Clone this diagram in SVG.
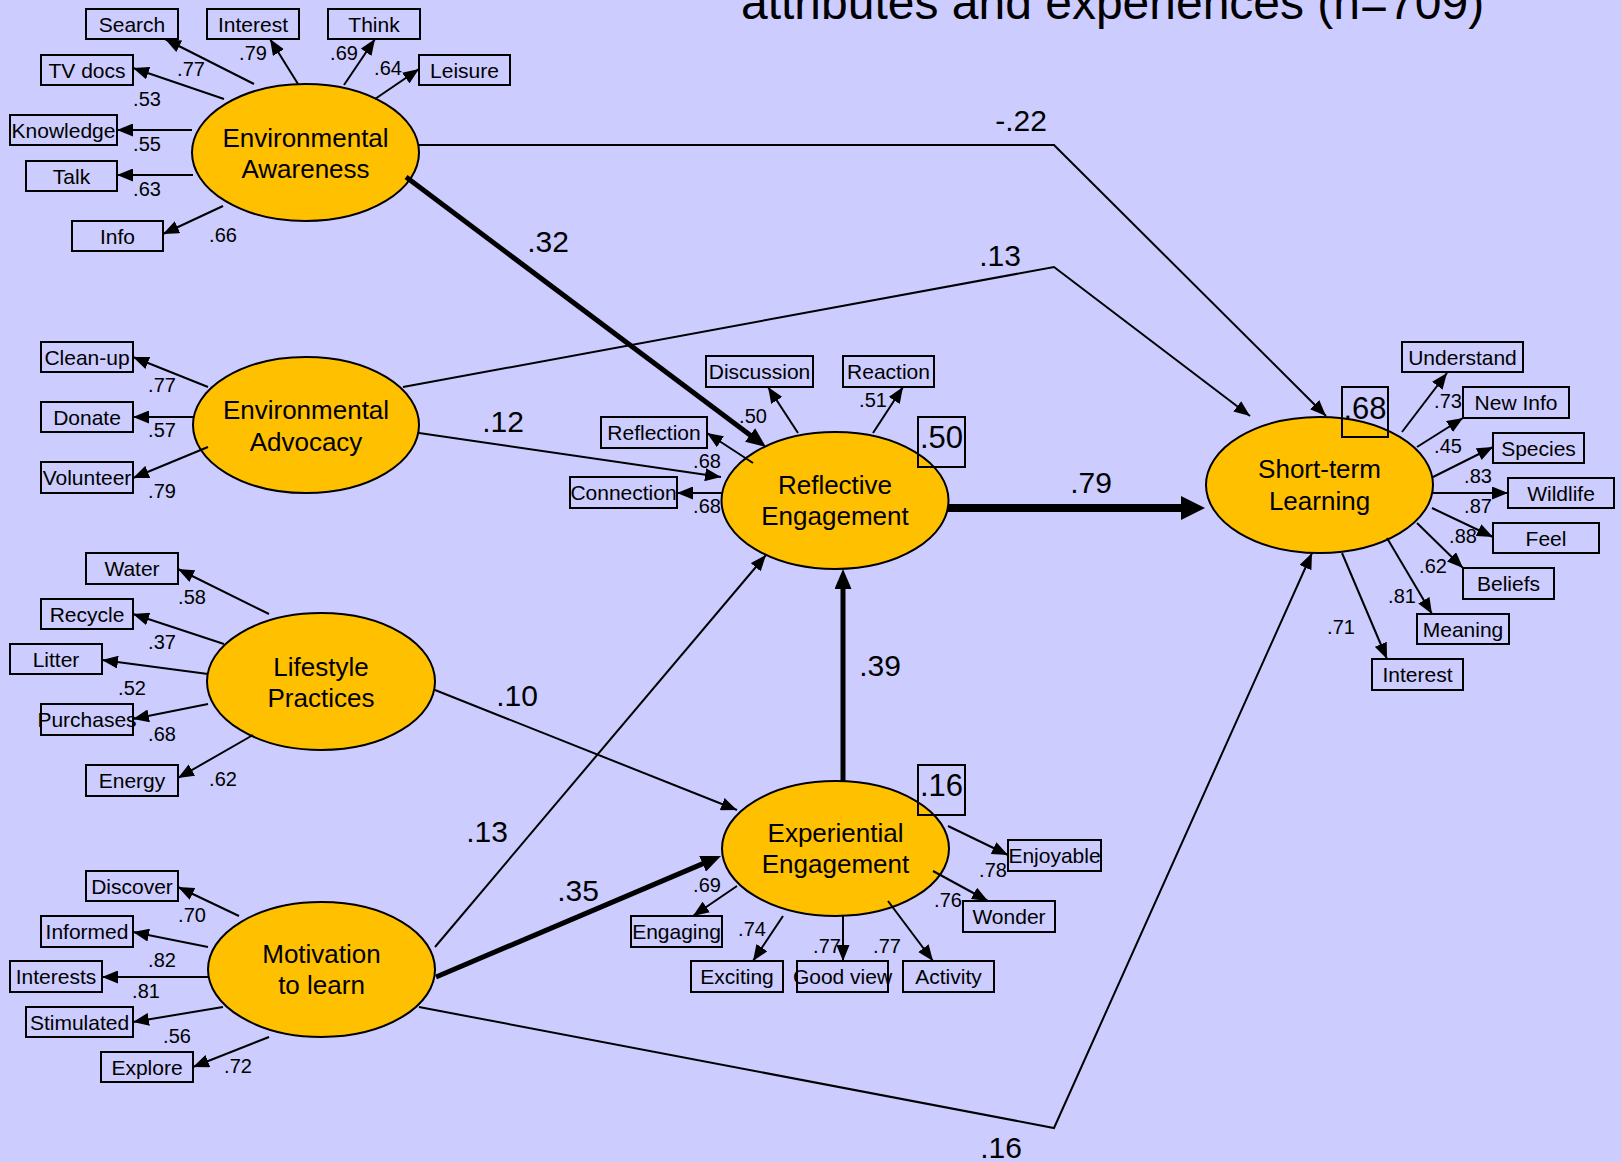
<svg xmlns="http://www.w3.org/2000/svg" width="1621" height="1162" viewBox="0 0 1621 1162">
<style>
text{font-family:"Liberation Sans",Arial,sans-serif;fill:#000}
.lat{fill:#FFC000;stroke:#000;stroke-width:2}
.box{fill:none;stroke:#000;stroke-width:2}
.lt{font-size:26px;text-anchor:middle}
.bt{font-size:21px;text-anchor:middle}
.r2t{font-size:31px;text-anchor:middle}
.cl{font-size:20px;text-anchor:middle}
.pl{font-size:30px;text-anchor:middle}
.thin{fill:none;stroke:#000;stroke-width:2;marker-end:url(#arrow)}
.med{fill:none;stroke:#000;stroke-width:5;marker-end:url(#arrowMed)}
.big{fill:none;stroke:#000;stroke-width:8;marker-end:url(#arrowBig)}
</style>
<defs>
<marker id="arrow" markerUnits="userSpaceOnUse" viewBox="0 0 16 13" refX="16" refY="6.5" markerWidth="16" markerHeight="13" orient="auto"><path d="M0,0 L16,6.5 L0,13 z" fill="#000"/></marker>
<marker id="arrowMed" markerUnits="userSpaceOnUse" viewBox="0 0 20 17" refX="10" refY="8.5" markerWidth="20" markerHeight="17" orient="auto"><path d="M0,0 L20,8.5 L0,17 z" fill="#000"/></marker>
<marker id="arrowBig" markerUnits="userSpaceOnUse" viewBox="0 0 24 24" refX="10" refY="12" markerWidth="24" markerHeight="24" orient="auto"><path d="M0,0 L24,12 L0,24 z" fill="#000"/></marker>
</defs>
<rect x="0" y="0" width="1621" height="1162" fill="#CCCCFF"/>
<text x="741" y="19" style="font-size:48px">attributes and experiences (n=709)</text>

<g id="node-environmental-awareness">
<ellipse class="lat" cx="305.5" cy="152.5" rx="113.5" ry="68.5"/>
<text class="lt" x="305.5" y="147">Environmental</text>
<text class="lt" x="305.5" y="178">Awareness</text>
</g>
<g id="node-environmental-advocacy">
<ellipse class="lat" cx="306" cy="425" rx="113" ry="68"/>
<text class="lt" x="306" y="419">Environmental</text>
<text class="lt" x="306" y="451">Advocacy</text>
</g>
<g id="node-lifestyle-practices">
<ellipse class="lat" cx="321" cy="681.5" rx="114" ry="68.5"/>
<text class="lt" x="321" y="676">Lifestyle</text>
<text class="lt" x="321" y="707">Practices</text>
</g>
<g id="node-motivation">
<ellipse class="lat" cx="321.5" cy="969.5" rx="113.5" ry="67.5"/>
<text class="lt" x="321.5" y="963">Motivation</text>
<text class="lt" x="321.5" y="994">to learn</text>
</g>
<g id="node-reflective-engagement">
<ellipse class="lat" cx="835" cy="500.5" rx="113.5" ry="68.5"/>
<text class="lt" x="835" y="494">Reflective</text>
<text class="lt" x="835" y="525">Engagement</text>
<rect class="box" x="918" y="417" width="47" height="50"/>
<text class="r2t" x="941.5" y="448">.50</text>
</g>
<g id="node-experiential-engagement">
<ellipse class="lat" cx="835.5" cy="848.5" rx="113.5" ry="67.5"/>
<text class="lt" x="835.5" y="842">Experiential</text>
<text class="lt" x="835.5" y="873">Engagement</text>
<rect class="box" x="918" y="765" width="47" height="50"/>
<text class="r2t" x="941.5" y="796">.16</text>
</g>
<g id="node-short-term-learning">
<ellipse class="lat" cx="1319.5" cy="485" rx="113.5" ry="68"/>
<text class="lt" x="1319.5" y="478">Short-term</text>
<text class="lt" x="1319.5" y="510">Learning</text>
<rect class="box" x="1342" y="387" width="46" height="50"/>
<text class="r2t" x="1365" y="419">.68</text>
</g>

<g id="node-search"><rect class="box" x="86" y="9" width="92" height="30"/><text class="bt" x="132" y="31.5">Search</text></g>
<g id="node-interest-ea"><rect class="box" x="207" y="9" width="92" height="30"/><text class="bt" x="253" y="31.5">Interest</text></g>
<g id="node-think"><rect class="box" x="328" y="9" width="92" height="30"/><text class="bt" x="374" y="31.5">Think</text></g>
<g id="node-tvdocs"><rect class="box" x="41" y="55" width="92" height="30"/><text class="bt" x="87" y="77.5">TV docs</text></g>
<g id="node-leisure"><rect class="box" x="419" y="55" width="91" height="30"/><text class="bt" x="464.5" y="77.5">Leisure</text></g>
<g id="node-knowledge"><rect class="box" x="10" y="115" width="107" height="30"/><text class="bt" x="63.5" y="137.5">Knowledge</text></g>
<g id="node-talk"><rect class="box" x="26" y="161" width="91" height="30"/><text class="bt" x="71.5" y="183.5">Talk</text></g>
<g id="node-info"><rect class="box" x="72" y="221" width="91" height="30"/><text class="bt" x="117.5" y="243.5">Info</text></g>

<g id="node-cleanup"><rect class="box" x="41" y="342" width="92" height="30"/><text class="bt" x="87" y="364.5">Clean-up</text></g>
<g id="node-donate"><rect class="box" x="41" y="402" width="92" height="30"/><text class="bt" x="87" y="424.5">Donate</text></g>
<g id="node-volunteer"><rect class="box" x="41" y="462" width="92" height="31"/><text class="bt" x="87" y="485">Volunteer</text></g>

<g id="node-water"><rect class="box" x="86" y="553" width="92" height="31"/><text class="bt" x="132" y="576">Water</text></g>
<g id="node-recycle"><rect class="box" x="41" y="599" width="92" height="30"/><text class="bt" x="87" y="621.5">Recycle</text></g>
<g id="node-litter"><rect class="box" x="10" y="644" width="92" height="30"/><text class="bt" x="56" y="666.5">Litter</text></g>
<g id="node-purchases"><rect class="box" x="41" y="704" width="92" height="31"/><text class="bt" x="87" y="727">Purchases</text></g>
<g id="node-energy"><rect class="box" x="86" y="765" width="92" height="31"/><text class="bt" x="132" y="788">Energy</text></g>

<g id="node-discover"><rect class="box" x="86" y="871" width="92" height="30"/><text class="bt" x="132" y="893.5">Discover</text></g>
<g id="node-informed"><rect class="box" x="41" y="916" width="92" height="31"/><text class="bt" x="87" y="939">Informed</text></g>
<g id="node-interests"><rect class="box" x="10" y="961" width="92" height="31"/><text class="bt" x="56" y="984">Interests</text></g>
<g id="node-stimulated"><rect class="box" x="26" y="1007" width="107" height="30"/><text class="bt" x="79.5" y="1029.5">Stimulated</text></g>
<g id="node-explore"><rect class="box" x="101" y="1052" width="92" height="30"/><text class="bt" x="147" y="1074.5">Explore</text></g>

<g id="node-discussion"><rect class="box" x="706" y="356" width="107" height="31"/><text class="bt" x="759.5" y="379">Discussion</text></g>
<g id="node-reaction"><rect class="box" x="843" y="356" width="91" height="31"/><text class="bt" x="888.5" y="379">Reaction</text></g>
<g id="node-reflection"><rect class="box" x="601" y="417" width="106" height="31"/><text class="bt" x="654" y="440">Reflection</text></g>
<g id="node-connection"><rect class="box" x="570" y="477" width="107" height="31"/><text class="bt" x="623.5" y="500">Connection</text></g>

<g id="node-enjoyable"><rect class="box" x="1008" y="840" width="93" height="31"/><text class="bt" x="1054.5" y="863">Enjoyable</text></g>
<g id="node-wonder"><rect class="box" x="963" y="901" width="92" height="31"/><text class="bt" x="1009" y="924">Wonder</text></g>
<g id="node-engaging"><rect class="box" x="631" y="916" width="91" height="31"/><text class="bt" x="676.5" y="939">Engaging</text></g>
<g id="node-exciting"><rect class="box" x="691" y="961" width="92" height="31"/><text class="bt" x="737" y="984">Exciting</text></g>
<g id="node-goodview"><rect class="box" x="797" y="961" width="91" height="31"/><text class="bt" x="842.5" y="984">Good view</text></g>
<g id="node-activity"><rect class="box" x="903" y="961" width="91" height="31"/><text class="bt" x="948.5" y="984">Activity</text></g>

<g id="node-understand"><rect class="box" x="1402" y="342" width="121" height="30"/><text class="bt" x="1462.5" y="364.5">Understand</text></g>
<g id="node-newinfo"><rect class="box" x="1463" y="387" width="106" height="31"/><text class="bt" x="1516" y="410">New Info</text></g>
<g id="node-species"><rect class="box" x="1493" y="433" width="91" height="30"/><text class="bt" x="1538.5" y="455.5">Species</text></g>
<g id="node-wildlife"><rect class="box" x="1508" y="478" width="106" height="30"/><text class="bt" x="1561" y="500.5">Wildlife</text></g>
<g id="node-feel"><rect class="box" x="1493" y="523" width="106" height="30"/><text class="bt" x="1546" y="545.5">Feel</text></g>
<g id="node-beliefs"><rect class="box" x="1463" y="568" width="91" height="31"/><text class="bt" x="1508.5" y="591">Beliefs</text></g>
<g id="node-meaning"><rect class="box" x="1417" y="614" width="92" height="30"/><text class="bt" x="1463" y="636.5">Meaning</text></g>
<g id="node-interest-st"><rect class="box" x="1372" y="659" width="91" height="31"/><text class="bt" x="1417.5" y="682">Interest</text></g>

<g id="connectors">
<path class="thin" d="M254,84 L165,39"/>
<path class="thin" d="M298,84 L270,39"/>
<path class="thin" d="M344,85 L375,39"/>
<path class="thin" d="M375,99 L419,69"/>
<path class="thin" d="M224,99 L133,68"/>
<path class="thin" d="M192,130 L117,130"/>
<path class="thin" d="M193,175 L117,175"/>
<path class="thin" d="M223,206 L163,234"/>
<path class="thin" d="M208,387 L133,357"/>
<path class="thin" d="M193,417 L133,417"/>
<path class="thin" d="M208,447 L133,478"/>
<path class="thin" d="M269,614 L178,569"/>
<path class="thin" d="M224,644 L133,614"/>
<path class="thin" d="M208,674 L102,660"/>
<path class="thin" d="M208,704 L133,719"/>
<path class="thin" d="M253,735 L178,778"/>
<path class="thin" d="M239,916 L178,887"/>
<path class="thin" d="M208,947 L133,932"/>
<path class="thin" d="M208,977 L102,977"/>
<path class="thin" d="M223,1007 L133,1022"/>
<path class="thin" d="M269,1037 L193,1067"/>
<path class="thin" d="M798,433 L768,387"/>
<path class="thin" d="M873,433 L903,387"/>
<path class="thin" d="M753,463 L707,433"/>
<path class="thin" d="M722,493 L677,493"/>
<path class="thin" d="M948,826 L1008,855"/>
<path class="thin" d="M933,871 L988,901"/>
<path class="thin" d="M737,886 L693,916"/>
<path class="thin" d="M783,916 L753,961"/>
<path class="thin" d="M843,916 L843,961"/>
<path class="thin" d="M888,901 L933,961"/>
<path class="thin" d="M1402,432 L1447,373"/>
<path class="thin" d="M1417,447 L1463,418"/>
<path class="thin" d="M1433,477 L1493,447"/>
<path class="thin" d="M1433,493 L1508,493"/>
<path class="thin" d="M1432,508 L1493,537"/>
<path class="thin" d="M1417,523 L1463,568"/>
<path class="thin" d="M1387,538 L1432,614"/>
<path class="thin" d="M1342,553 L1387,659"/>
<path class="thin" d="M419,145 L1054,145 L1326,416"/>
<path class="thin" d="M403,387 L1054,267 L1250,416"/>
<path class="thin" d="M419,433 L721,477"/>
<path class="thin" d="M435,690 L737,810"/>
<path class="thin" d="M435,947 L766,555"/>
<path class="thin" d="M419,1007 L1054,1128 L1312,553"/>
<path class="med" d="M406,177 L758,441"/>
<path class="med" d="M436,977 L711.8,859.9"/>
<path class="med" d="M843,781 L843,579"/>
<path class="big" d="M948,508 L1191,508"/>
</g>

<g id="edge-labels">
<text class="cl" x="253" y="60">.79</text>
<text class="cl" x="191" y="76">.77</text>
<text class="cl" x="344" y="60">.69</text>
<text class="cl" x="388" y="75">.64</text>
<text class="cl" x="147" y="106">.53</text>
<text class="cl" x="147" y="151">.55</text>
<text class="cl" x="147" y="196">.63</text>
<text class="cl" x="223" y="242">.66</text>
<text class="cl" x="162" y="392">.77</text>
<text class="cl" x="162" y="437">.57</text>
<text class="cl" x="162" y="498">.79</text>
<text class="cl" x="192" y="604">.58</text>
<text class="cl" x="162" y="649">.37</text>
<text class="cl" x="132" y="695">.52</text>
<text class="cl" x="162" y="741">.68</text>
<text class="cl" x="223" y="786">.62</text>
<text class="cl" x="192" y="922">.70</text>
<text class="cl" x="162" y="967">.82</text>
<text class="cl" x="146" y="998">.81</text>
<text class="cl" x="177" y="1043">.56</text>
<text class="cl" x="238" y="1073">.72</text>
<text class="cl" x="753" y="423">.50</text>
<text class="cl" x="873" y="407">.51</text>
<text class="cl" x="707" y="468">.68</text>
<text class="cl" x="707" y="513">.68</text>
<text class="cl" x="993" y="877">.78</text>
<text class="cl" x="948" y="907">.76</text>
<text class="cl" x="707" y="892">.69</text>
<text class="cl" x="752" y="936">.74</text>
<text class="cl" x="827" y="953">.77</text>
<text class="cl" x="887" y="953">.77</text>
<text class="cl" x="1448" y="408">.73</text>
<text class="cl" x="1448" y="453">.45</text>
<text class="cl" x="1478" y="483">.83</text>
<text class="cl" x="1478" y="513">.87</text>
<text class="cl" x="1463" y="543">.88</text>
<text class="cl" x="1433" y="573">.62</text>
<text class="cl" x="1402" y="603">.81</text>
<text class="cl" x="1341" y="634">.71</text>
<text class="pl" x="1021" y="131">-.22</text>
<text class="pl" x="548" y="252">.32</text>
<text class="pl" x="1000" y="266">.13</text>
<text class="pl" x="503" y="432">.12</text>
<text class="pl" x="1091" y="493">.79</text>
<text class="pl" x="517" y="706">.10</text>
<text class="pl" x="880" y="676">.39</text>
<text class="pl" x="487" y="842">.13</text>
<text class="pl" x="578" y="901">.35</text>
<text class="pl" x="1001" y="1158">.16</text>
</g>
</svg>
